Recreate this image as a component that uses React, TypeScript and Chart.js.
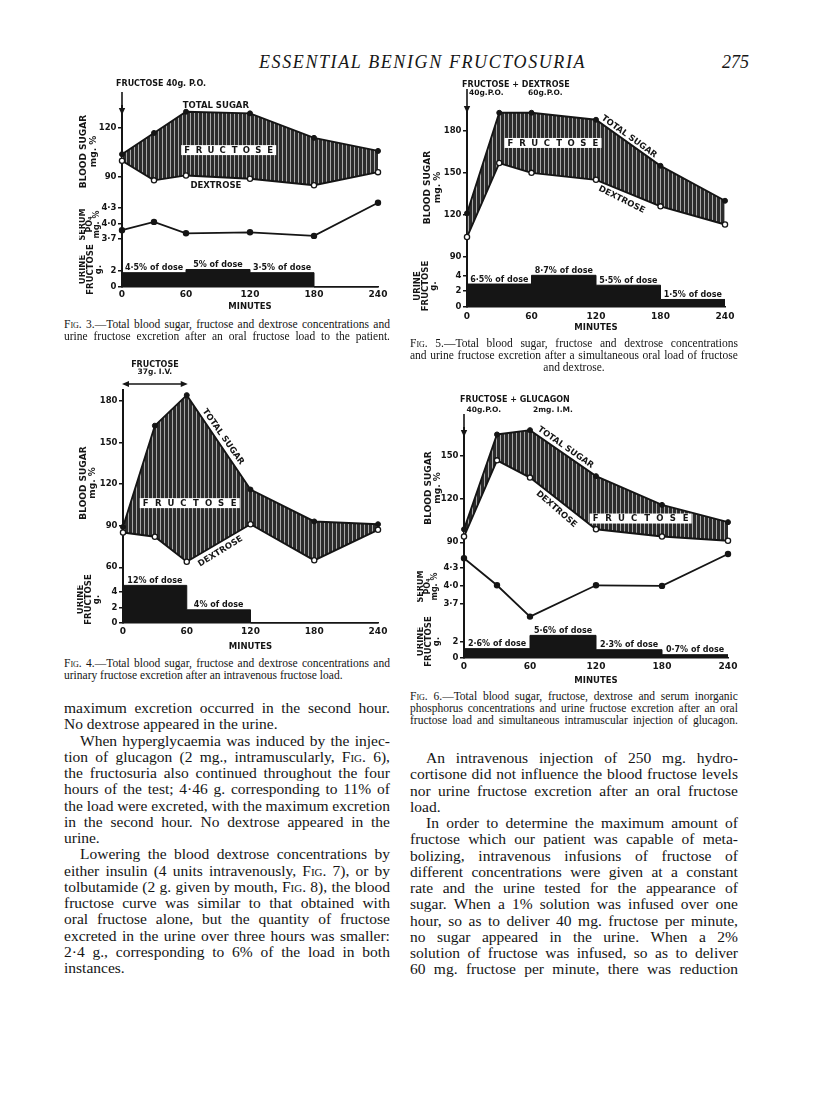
import React, { useEffect, useRef } from 'react';
import { Chart, registerables } from 'chart.js';

Chart.register(...registerables);

// ---------------- data ----------------
const minutes = [0, 30, 60, 120, 180, 240];
const minuteTicks = [0, 60, 120, 180, 240];
const hourStarts = [0, 60, 120, 180];
const testEnd = 240;

// Fig. 3 – oral fructose
const fig3TotalSugar = [104, 117, 130, 129, 114, 106];
const fig3Dextrose = [100, 88, 91, 89, 85, 93];
const fig3SerumPO4 = [3.87, 4.03, 3.81, 3.83, 3.76, 4.4];
const fig3UrineFructose = [1.8, 2.2, 1.8, 0];
const fig3UrineLabels = ['4·5% of dose', '5% of dose', '3·5% of dose', ''];
const fig3SugarTicks = [90, 120];
const fig3PO4Ticks = [3.7, 4.0, 4.3];
const fig3UrineTicks = [0, 2];

// Fig. 4 – intravenous fructose
const fig4TotalSugar = [89, 162, 184, 116, 93, 91];
const fig4Dextrose = [85, 82, 64, 91, 65, 87];
const fig4UrineFructose = [4.85, 1.7, 0, 0];
const fig4UrineLabels = ['12% of dose', '4% of dose', '', ''];
const fig4SugarTicks = [60, 90, 120, 150, 180];
const fig4UrineTicks = [0, 2, 4];

// Fig. 5 – fructose + dextrose
const fig5TotalSugar = [121, 193, 193, 188, 155, 130];
const fig5Dextrose = [104, 157, 150, 145, 126, 113];
const fig5UrineFructose = [2.9, 4.0, 2.75, 0.95];
const fig5UrineLabels = ['6·5% of dose', '8·7% of dose', '5·5% of dose', '1·5% of dose'];
const fig5SugarTicks = [90, 120, 150, 180];
const fig5UrineTicks = [0, 2, 4];

// Fig. 6 – fructose + glucagon
const fig6TotalSugar = [99, 165, 168, 136, 116, 104];
const fig6Dextrose = [94, 147, 135, 99, 94, 91];
const fig6SerumPO4 = [4.46, 4.01, 3.49, 4.01, 4.0, 4.53];
const fig6UrineFructose = [1.13, 2.73, 1.0, 0.4];
const fig6UrineLabels = ['2·6% of dose', '5·6% of dose', '2·3% of dose', '0·7% of dose'];
const fig6SugarTicks = [90, 120, 150];
const fig6PO4Ticks = [3.7, 4.0, 4.3];
const fig6UrineTicks = [0, 2];

// ---------------- text ----------------
const headerTitle = 'ESSENTIAL BENIGN FRUCTOSURIA';
const pageNumber = '275';

const fig3Caption = [
  'Fig. 3.—Total blood sugar, fructose and dextrose concentrations and',
  'urine fructose excretion after an oral fructose load to the patient.',
];
const fig4Caption = [
  'Fig. 4.—Total blood sugar, fructose and dextrose concentrations and',
  'urinary fructose excretion after an intravenous fructose load.',
];
const fig5Caption = [
  'Fig. 5.—Total blood sugar, fructose and dextrose concentrations',
  'and urine fructose excretion after a simultaneous oral load of fructose',
  'and dextrose.',
];
const fig6Caption = [
  'Fig. 6.—Total blood sugar, fructose, dextrose and serum inorganic',
  'phosphorus concentrations and urine fructose excretion after an oral',
  'fructose load and simultaneous intramuscular injection of glucagon.',
];

const leftBody = [
  'maximum excretion occurred in the second hour.',
  'No dextrose appeared in the urine.',
  'When hyperglycaemia was induced by the injec-',
  'tion of glucagon (2 mg., intramuscularly, Fig. 6),',
  'the fructosuria also continued throughout the four',
  'hours of the test; 4·46 g. corresponding to 11% of',
  'the load were excreted, with the maximum excretion',
  'in the second hour.  No dextrose appeared in the',
  'urine.',
  'Lowering the blood dextrose concentrations by',
  'either insulin (4 units intravenously, Fig. 7), or by',
  'tolbutamide (2 g. given by mouth, Fig. 8), the blood',
  'fructose curve was similar to that obtained with',
  'oral fructose alone, but the quantity of fructose',
  'excreted in the urine over three hours was smaller:',
  '2·4 g., corresponding to 6% of the load in both',
  'instances.',
];
const leftBodyIndented = [2, 9];
const leftBodyParaEnds = [1, 8, 16];

const rightBody = [
  'An intravenous injection of 250 mg. hydro-',
  'cortisone did not influence the blood fructose levels',
  'nor urine fructose excretion after an oral fructose',
  'load.',
  'In order to determine the maximum amount of',
  'fructose which our patient was capable of meta-',
  'bolizing, intravenous infusions of fructose of',
  'different concentrations were given at a constant',
  'rate and the urine tested for the appearance of',
  'sugar.  When a 1% solution was infused over one',
  'hour, so as to deliver 40 mg. fructose per minute,',
  'no sugar appeared in the urine.  When a 2%',
  'solution of fructose was infused, so as to deliver',
  '60 mg. fructose per minute, there was reduction',
];
const rightBodyIndented = [0, 4];
const rightBodyParaEnds = [3];

// ---------------- styling helpers ----------------
const INK = '#151515';
const SANS = "'DejaVu Sans', 'Liberation Sans', sans-serif";
const SERIF = "'Liberation Serif', 'Times New Roman', serif";
const bold = (size) => `bold ${size}px ${SANS}`;

function drawLabel(ctx, text, x, y, opts: any = {}) {
  ctx.save();
  ctx.translate(x, y);
  if (opts.angle) ctx.rotate((opts.angle * Math.PI) / 180);
  ctx.font = bold(opts.size || 8.5);
  ctx.fillStyle = INK;
  ctx.textAlign = opts.align || 'center';
  ctx.textBaseline = opts.baseline || 'middle';
  ctx.fillText(text, 0, 0);
  ctx.restore();
}

function drawFructoseBox(ctx, cx, cy, w, h) {
  ctx.save();
  ctx.fillStyle = '#fff';
  ctx.fillRect(cx - w / 2, cy - h / 2, w, h);
  ctx.font = bold(8.5);
  ctx.fillStyle = INK;
  ctx.textAlign = 'center';
  ctx.textBaseline = 'middle';
  const letters = 'FRUCTOSE'.split('');
  const inner = w - 12;
  letters.forEach((ch, i) => {
    ctx.fillText(ch, cx - inner / 2 + (i * inner) / (letters.length - 1), cy + 0.5);
  });
  ctx.restore();
}

function drawArrowDown(ctx, x, y1, y2) {
  ctx.save();
  ctx.strokeStyle = INK;
  ctx.fillStyle = INK;
  ctx.lineWidth = 1.6;
  ctx.beginPath();
  ctx.moveTo(x, y1);
  ctx.lineTo(x, y2 - 5);
  ctx.stroke();
  ctx.beginPath();
  ctx.moveTo(x - 3.2, y2 - 7);
  ctx.lineTo(x + 3.2, y2 - 7);
  ctx.lineTo(x, y2);
  ctx.closePath();
  ctx.fill();
  ctx.restore();
}

function drawDoubleArrow(ctx, x1, x2, y) {
  ctx.save();
  ctx.strokeStyle = INK;
  ctx.fillStyle = INK;
  ctx.lineWidth = 1.5;
  ctx.beginPath();
  ctx.moveTo(x1 + 5, y);
  ctx.lineTo(x2 - 5, y);
  ctx.stroke();
  ctx.beginPath();
  ctx.moveTo(x1, y);
  ctx.lineTo(x1 + 7, y - 3);
  ctx.lineTo(x1 + 7, y + 3);
  ctx.closePath();
  ctx.fill();
  ctx.beginPath();
  ctx.moveTo(x2, y);
  ctx.lineTo(x2 - 7, y - 3);
  ctx.lineTo(x2 - 7, y + 3);
  ctx.closePath();
  ctx.fill();
  ctx.restore();
}

const fmtInt = (v) => String(v);
const fmtPO4 = (v) => Number(v).toFixed(1).replace('.', '·');

const BLOOD_TITLE_FONT = { size: 9, lh: 1.05 };
const SERUM_TITLE_FONT = { size: 8, lh: 0.9 };
const URINE_TITLE_FONT = { size: 8.5, lh: 0.95 };

// ---------------- figure specs ----------------
const figures: any[] = [
  {
    name: 'fig3',
    area: { l: 122, t: 106, r: 378, b: 287 },
    yW: 43, padTop: 40, padRight: 22, xH: 24, xTickPad: 3.5,
    total: fig3TotalSugar, dextrose: fig3Dextrose, phosphate: fig3SerumPO4,
    urine: fig3UrineFructose, urineLabels: fig3UrineLabels,
    panels: [
      { id: 'yB', min: 77.8, max: 133.5, weight: 91, ticks: fig3SugarTicks, fmt: fmtInt, title: ['BLOOD SUGAR', 'mg. %'], titlePad: 0, tf: BLOOD_TITLE_FONT },
      { id: 'yS', min: 3.45, max: 4.51, weight: 55, ticks: fig3PO4Ticks, fmt: fmtPO4, title: ['SERUM', 'PO₄', 'mg. %'], titlePad: 0, tf: SERUM_TITLE_FONT },
      { id: 'yU', min: 0, max: 4.4, weight: 35, ticks: fig3UrineTicks, fmt: fmtInt, title: ['URINE', 'FRUCTOSE', 'g.'], titlePad: 0, tf: URINE_TITLE_FONT },
    ],
    notes: (ctx, chart) => {
      const x = chart.scales.x, yB = chart.scales.yB, a = chart.chartArea;
      const x0 = x.getPixelForValue(0);
      drawLabel(ctx, 'FRUCTOSE 40g. P.O.', x0 - 6, a.top - 22, { align: 'left', size: 8 });
      drawArrowDown(ctx, x0, a.top - 14, a.top + 9);
      drawLabel(ctx, 'TOTAL SUGAR', x.getPixelForValue(88), yB.getPixelForValue(133.7));
      drawLabel(ctx, 'DEXTROSE', x.getPixelForValue(88), yB.getPixelForValue(84.7));
      drawFructoseBox(ctx, x.getPixelForValue(100), yB.getPixelForValue(106.5), 95, 10);
    },
  },
  {
    name: 'fig5',
    area: { l: 467, t: 110, r: 725, b: 307 },
    yW: 54, padTop: 35, padRight: 22, xH: 25, xTickPad: 5.5,
    total: fig5TotalSugar, dextrose: fig5Dextrose, phosphate: null,
    urine: fig5UrineFructose, urineLabels: fig5UrineLabels,
    panels: [
      { id: 'yB', min: 84, max: 195, weight: 155, ticks: fig5SugarTicks, fmt: fmtInt, title: ['BLOOD SUGAR', 'mg. %'], titlePad: 10.4, tf: BLOOD_TITLE_FONT },
      { id: 'yU', min: 0, max: 5.3, weight: 42, ticks: fig5UrineTicks, fmt: fmtInt, title: ['URINE', 'FRUCTOSE', 'g.'], titlePad: 0.5, tf: URINE_TITLE_FONT },
    ],
    notes: (ctx, chart) => {
      const x = chart.scales.x, yB = chart.scales.yB, a = chart.chartArea;
      const x0 = x.getPixelForValue(0);
      drawLabel(ctx, 'FRUCTOSE + DEXTROSE', x0 - 5, a.top - 25, { align: 'left', size: 8 });
      drawLabel(ctx, '40g.P.O.', x0 + 2, a.top - 16.5, { align: 'left', size: 7.5 });
      drawLabel(ctx, '60g.P.O.', x0 + 61, a.top - 16.5, { align: 'left', size: 7.5 });
      drawArrowDown(ctx, x0, a.top - 21, a.top + 3);
      drawLabel(ctx, 'TOTAL SUGAR', x.getPixelForValue(150.7), yB.getPixelForValue(175.9), { angle: 36 });
      drawLabel(ctx, 'DEXTROSE', x.getPixelForValue(143.9), yB.getPixelForValue(130.8), { angle: 26.5 });
      drawFructoseBox(ctx, x.getPixelForValue(80), yB.getPixelForValue(171.4), 97, 10);
    },
  },
  {
    name: 'fig4',
    area: { l: 123, t: 390, r: 378, b: 623 },
    yW: 46, padTop: 32, padRight: 22, xH: 28, xTickPad: 4,
    total: fig4TotalSugar, dextrose: fig4Dextrose, phosphate: null,
    urine: fig4UrineFructose, urineLabels: fig4UrineLabels,
    panels: [
      { id: 'yB', min: 53.7, max: 187.7, weight: 186, ticks: fig4SugarTicks, fmt: fmtInt, title: ['BLOOD SUGAR', 'mg. %'], titlePad: 1.5, tf: BLOOD_TITLE_FONT },
      { id: 'yU', min: 0, max: 6.06, weight: 47, ticks: fig4UrineTicks, fmt: fmtInt, title: ['URINE', 'FRUCTOSE', 'g.'], titlePad: 0, tf: URINE_TITLE_FONT },
    ],
    notes: (ctx, chart) => {
      const x = chart.scales.x, yB = chart.scales.yB, a = chart.chartArea;
      drawLabel(ctx, 'FRUCTOSE', x.getPixelForValue(30), a.top - 25, { size: 8 });
      drawLabel(ctx, '37g. I.V.', x.getPixelForValue(30), a.top - 17.5, { size: 7.5 });
      drawDoubleArrow(ctx, x.getPixelForValue(0) - 1, x.getPixelForValue(60) + 1, a.top - 6);
      drawLabel(ctx, 'TOTAL SUGAR', x.getPixelForValue(94.1), yB.getPixelForValue(154), { angle: 55 });
      drawLabel(ctx, 'DEXTROSE', x.getPixelForValue(91.8), yB.getPixelForValue(71.4), { angle: -32 });
      drawFructoseBox(ctx, x.getPixelForValue(62.8), yB.getPixelForValue(106.2), 100, 10);
    },
  },
  {
    name: 'fig6',
    area: { l: 464, t: 428, r: 728, b: 658 },
    yW: 47, padTop: 34, padRight: 22, xH: 27, xTickPad: 4.5,
    total: fig6TotalSugar, dextrose: fig6Dextrose, phosphate: fig6SerumPO4,
    urine: fig6UrineFructose, urineLabels: fig6UrineLabels,
    panels: [
      { id: 'yB', min: 86, max: 169.5, weight: 120, ticks: fig6SugarTicks, fmt: fmtInt, title: ['BLOOD SUGAR', 'mg. %'], titlePad: 6.5, tf: BLOOD_TITLE_FONT },
      { id: 'yS', min: 3.35, max: 4.63, weight: 77, ticks: fig6PO4Ticks, fmt: fmtPO4, title: ['SERUM', 'PO₄', 'mg. %'], titlePad: 0, tf: SERUM_TITLE_FONT },
      { id: 'yU', min: 0, max: 3.98, weight: 33, ticks: fig6UrineTicks, fmt: fmtInt, title: ['URINE', 'FRUCTOSE', 'g.'], titlePad: 0, tf: URINE_TITLE_FONT },
    ],
    notes: (ctx, chart) => {
      const x = chart.scales.x, yB = chart.scales.yB, a = chart.chartArea;
      const x0 = x.getPixelForValue(0);
      drawLabel(ctx, 'FRUCTOSE + GLUCAGON', x0 - 4, a.top - 28, { align: 'left', size: 8 });
      drawLabel(ctx, '40g.P.O.', x0 + 2.5, a.top - 18, { align: 'left', size: 7.5 });
      drawLabel(ctx, '2mg. I.M.', x0 + 69, a.top - 18, { align: 'left', size: 7.5 });
      drawArrowDown(ctx, x0, a.top - 14, a.top + 9);
      drawLabel(ctx, 'TOTAL SUGAR', x.getPixelForValue(92.3), yB.getPixelForValue(155.9), { angle: 35 });
      drawLabel(ctx, 'DEXTROSE', x.getPixelForValue(84), yB.getPixelForValue(113), { angle: 41 });
      drawFructoseBox(ctx, x.getPixelForValue(160.6), yB.getPixelForValue(106.5), 102, 10);
    },
  },
];

function makePattern() {
  const c = document.createElement('canvas');
  c.width = 4;
  c.height = 4;
  const g = c.getContext('2d');
  g.fillStyle = '#2c2c2c';
  g.fillRect(0, 0, 4, 4);
  g.fillStyle = '#a8a8a8';
  g.fillRect(3, 0, 1, 4);
  return g.createPattern(c, 'repeat');
}

const stepPoints = (vals) => [
  ...hourStarts.map((m, i) => ({ x: m, y: vals[i] })),
  { x: testEnd, y: vals[vals.length - 1] },
];

function buildConfig(fig, pattern) {
  const tickFont = { family: SANS, size: 8.5, weight: 'bold', lineHeight: 1 };
  const datasets: any[] = [
    {
      label: 'Total sugar',
      data: minutes.map((m, i) => ({ x: m, y: fig.total[i] })),
      yAxisID: 'yB',
      borderColor: INK, borderWidth: 1.9,
      pointRadius: 2.5, pointBackgroundColor: INK, pointBorderColor: INK, pointBorderWidth: 1,
      fill: '+1', backgroundColor: pattern, clip: false,
    },
    {
      label: 'Dextrose',
      data: minutes.map((m, i) => ({ x: m, y: fig.dextrose[i] })),
      yAxisID: 'yB',
      borderColor: INK, borderWidth: 1.9,
      pointRadius: 2.6, pointBackgroundColor: '#fff', pointBorderColor: INK, pointBorderWidth: 1.3,
      fill: false, clip: false,
    },
  ];
  if (fig.phosphate) {
    datasets.push({
      label: 'Serum PO4',
      data: minutes.map((m, i) => ({ x: m, y: fig.phosphate[i] })),
      yAxisID: 'yS',
      borderColor: INK, borderWidth: 1.8,
      pointRadius: 2.3, pointBackgroundColor: INK, pointBorderColor: INK,
      fill: false, clip: false,
    });
  }
  datasets.push({
    label: 'Urine fructose',
    data: stepPoints(fig.urine),
    yAxisID: 'yU',
    stepped: true,
    borderColor: INK, borderWidth: 1, pointRadius: 0,
    fill: 'origin', backgroundColor: INK, clip: false,
  });

  const scales: any = {
    x: {
      type: 'linear', position: 'bottom', min: 0, max: testEnd,
      afterBuildTicks: (s) => { s.ticks = minuteTicks.map((v) => ({ value: v })); },
      ticks: { color: INK, font: { family: SANS, size: 9, weight: 'bold', lineHeight: 1 }, padding: fig.xTickPad, maxRotation: 0, autoSkip: false, callback: (v) => String(v) },
      grid: { display: false, drawTicks: false },
      border: { display: true, color: INK, width: 1.5 },
      title: { display: true, text: 'MINUTES', color: INK, font: { family: SANS, size: 8.5, weight: 'bold', lineHeight: 1 }, padding: { top: 0, bottom: 0 } },
      afterFit: (s) => { s.height = fig.xH; },
    },
  };
  fig.panels.forEach((p, idx) => {
    scales[p.id] = {
      type: 'linear', position: 'left', stack: 'panels', stackWeight: p.weight,
      weight: fig.panels.length - idx,
      min: p.min, max: p.max,
      afterBuildTicks: (s) => { s.ticks = p.ticks.map((v) => ({ value: v })); },
      ticks: { color: INK, font: tickFont, padding: 1.5, autoSkip: false, callback: (v) => p.fmt(v) },
      grid: { display: true, drawOnChartArea: false, drawTicks: true, tickLength: 4, color: INK, lineWidth: 1.5 },
      border: { display: true, color: INK, width: 2 },
      title: { display: true, text: p.title, color: INK, font: { family: SANS, size: p.tf.size, weight: 'bold', lineHeight: p.tf.lh }, padding: { top: p.titlePad, bottom: 0 } },
      afterFit: (s) => { s.width = fig.yW; },
    };
  });

  const notesPlugin = {
    id: 'notes_' + fig.name,
    afterDraw(chart) {
      const ctx = chart.ctx;
      const x = chart.scales.x, yU = chart.scales.yU;
      fig.urineLabels.forEach((lbl, i) => {
        if (!lbl) return;
        drawLabel(ctx, lbl, x.getPixelForValue(hourStarts[i] + 30), yU.getPixelForValue(fig.urine[i]) - 0.5, { size: 8, baseline: 'bottom' });
      });
      fig.notes(ctx, chart);
    },
  };

  return {
    type: 'line',
    data: { datasets },
    options: {
      responsive: false,
      animation: false,
      events: [],
      layout: { padding: { top: fig.padTop, right: fig.padRight, left: 0, bottom: 0 } },
      plugins: { legend: { display: false }, tooltip: { enabled: false }, filler: { drawTime: 'beforeDatasetsDraw' } },
      scales,
    },
    plugins: [notesPlugin],
  };
}

function FigureChart({ fig }) {
  const ref = useRef(null);
  const w = fig.yW + (fig.area.r - fig.area.l) + fig.padRight;
  const h = fig.padTop + (fig.area.b - fig.area.t) + fig.xH;
  useEffect(() => {
    const chart = new Chart(ref.current, buildConfig(fig, makePattern()) as any);
    return () => chart.destroy();
  }, []);
  return (
    <canvas
      ref={ref}
      width={w}
      height={h}
      style={{ position: 'absolute', left: fig.area.l - fig.yW, top: fig.area.t - fig.padTop, width: w, height: h }}
    />
  );
}

function Word({ w }) {
  if (w === 'Fig.') return <span style={{ fontVariant: 'small-caps' }}>Fig.</span>;
  return <>{w}</>;
}

function Line({ text, x, y, width, size, lh, justify, indent = 0, align = 'left' }) {
  const base: any = {
    position: 'absolute', left: x, top: y, width, boxSizing: 'border-box',
    paddingLeft: indent, fontFamily: SERIF, fontSize: size, lineHeight: lh + 'px',
    whiteSpace: 'nowrap', color: '#141414',
  };
  const words = text.split(' ').filter((s) => s.length > 0);
  if (justify) {
    return (
      <div style={{ ...base, display: 'flex', justifyContent: 'space-between' }}>
        {words.map((wd, i) => (<span key={i}><Word w={wd} /></span>))}
      </div>
    );
  }
  return (
    <div style={{ ...base, textAlign: align }}>
      {words.map((wd, i) => (<span key={i}>{i > 0 ? ' ' : ''}<Word w={wd} /></span>))}
    </div>
  );
}

const CAP_SIZE = 11.5, CAP_LH = 12, CAP_OFF = 7.3;
const BODY_SIZE = 15.5, BODY_LH = 16.25, BODY_OFF = 10;
const LEFT_X = 64, LEFT_W = 326, RIGHT_X = 410, RIGHT_W = 328;

function Caption({ lines, x, w, y0, lastMode }) {
  return (
    <>
      {lines.map((t, i) => {
        const last = i === lines.length - 1;
        const mode = last ? lastMode : 'justify';
        return (
          <Line key={i} text={t} x={x} y={y0 + i * CAP_LH - CAP_OFF} width={w} size={CAP_SIZE} lh={CAP_LH}
            justify={mode === 'justify'} align={mode === 'center' ? 'center' : 'left'} />
        );
      })}
    </>
  );
}

function Body({ lines, x, w, y0, indented, ends }) {
  return (
    <>
      {lines.map((t, i) => (
        <Line key={i} text={t} x={x} y={y0 + i * BODY_LH - BODY_OFF} width={w} size={BODY_SIZE} lh={BODY_LH}
          justify={!ends.includes(i)} indent={indented.includes(i) ? 16 : 0} />
      ))}
    </>
  );
}

export default function App() {
  return (
    <div style={{ position: 'absolute', left: 0, top: 0, width: 816, height: 1097, background: '#fff', overflow: 'hidden' }}>
      <div style={{ position: 'absolute', left: 259, top: 52, fontFamily: SERIF, fontStyle: 'italic', fontSize: 18, lineHeight: '20px', letterSpacing: 1.6, whiteSpace: 'nowrap', color: '#161616' }}>
        {headerTitle}
      </div>
      <div style={{ position: 'absolute', left: 722, top: 52, fontFamily: SERIF, fontStyle: 'italic', fontSize: 18, lineHeight: '20px', color: '#161616' }}>
        {pageNumber}
      </div>

      {figures.map((f) => (<FigureChart key={f.name} fig={f} />))}

      <Caption lines={fig3Caption} x={LEFT_X} w={LEFT_W} y0={325} lastMode="justify" />
      <Caption lines={fig5Caption} x={RIGHT_X} w={RIGHT_W} y0={344} lastMode="center" />
      <Caption lines={fig4Caption} x={LEFT_X} w={LEFT_W} y0={664} lastMode="left" />
      <Caption lines={fig6Caption} x={RIGHT_X} w={RIGHT_W} y0={697} lastMode="justify" />

      <Body lines={leftBody} x={LEFT_X} w={LEFT_W} y0={710} indented={leftBodyIndented} ends={leftBodyParaEnds} />
      <Body lines={rightBody} x={RIGHT_X} w={RIGHT_W} y0={760} indented={rightBodyIndented} ends={rightBodyParaEnds} />
    </div>
  );
}
